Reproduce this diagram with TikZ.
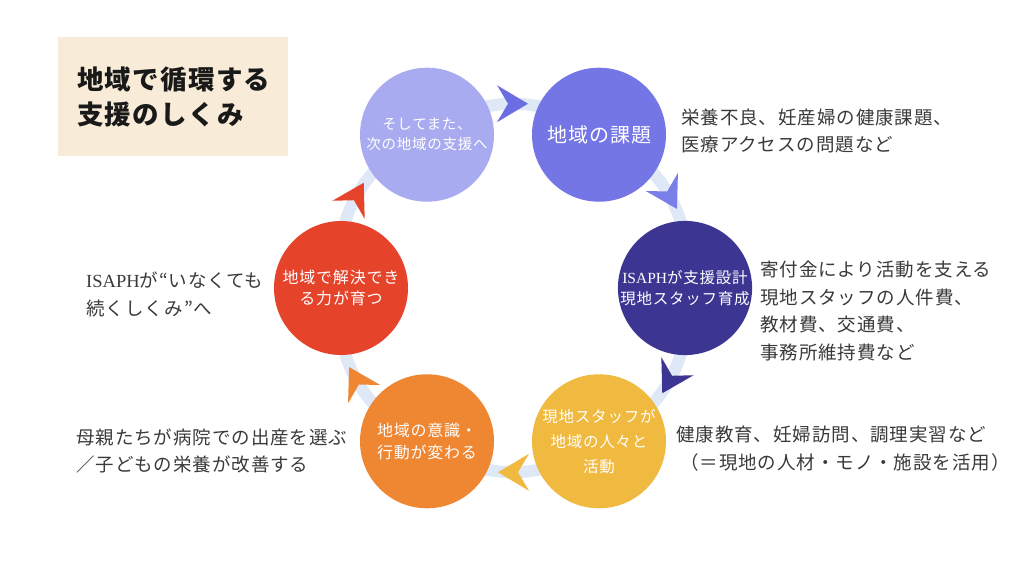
\documentclass[tikz,border=0pt]{standalone}
\usepackage{fontspec}
\newfontfamily\jp[LetterSpace=5]{Noto Sans CJK JP}
\newfontfamily\lserif{Liberation Serif}
\usetikzlibrary{arrows.meta, decorations.markings, backgrounds, calc}

\definecolor{beige}{HTML}{F8ECD8}
\definecolor{ringblue}{HTML}{DFE8F6}
\definecolor{notegray}{HTML}{3A3A3A}
\definecolor{cTsugi}{HTML}{A9ABF0}
\definecolor{cKadai}{HTML}{7476E6}
\definecolor{cSekkei}{HTML}{3C3592}
\definecolor{cKatsudo}{HTML}{F0B940}
\definecolor{cIshiki}{HTML}{EE8632}
\definecolor{cKaiketsu}{HTML}{E6432B}
\definecolor{arTop}{HTML}{6B6EE2}
\definecolor{arRight}{HTML}{7A7EE8}

\begin{document}
\begin{tikzpicture}[x=1pt, y=1pt,
    bubble/.style={circle, minimum size=134pt, inner sep=0pt, fill=#1, text=white, align=center},
    note/.style={anchor=west, align=left, inner sep=0pt, text=notegray, font=\jp\fontsize{18.5}{27.5}\selectfont},
    ringpath/.style={line width=12pt, color=ringblue,
      postaction={decorate, decoration={markings, mark=at position 0.5 with
        {\arrow[xshift=15pt]{Stealth[length=31pt, width=37pt, inset=11pt, line width=0pt, color=#1, fill=#1]}}}}}]

    \useasboundingbox (0,0) rectangle (1024,576);

    % title
    \node[fill=beige, minimum width=230pt, minimum height=119pt, text width=192pt, align=left, inner sep=0pt,
          font=\jp\bfseries\fontsize{26.5}{35}\selectfont, text=black!90] (title) at (173,479.5)
          {地域で循環する\\支援のしくみ};

    % the six steps
    \coordinate (O) at (513,288);
    \node[bubble=cTsugi, font=\jp\fontsize{14.5}{20}\selectfont] (tsugi) at ($(O)+(120:172 and 177)$) {そしてまた、\\次の地域の支援へ};
    \node[bubble=cKadai, font=\jp\fontsize{20}{24}\selectfont] (kadai) at ($(O)+(60:172 and 177)$) {地域の課題};
    \node[bubble=cSekkei, font=\jp\fontsize{15.5}{21}\selectfont] (sekkei) at ($(O)+(0:172 and 177)$) {{\lserif ISAPH}が支援設計\\現地スタッフ育成};
    \node[bubble=cKatsudo, font=\jp\fontsize{15.5}{25}\selectfont] (katsudo) at ($(O)+(-60:172 and 177)$) {現地スタッフが\\地域の人々と\\活動};
    \node[bubble=cIshiki, font=\jp\fontsize{16}{22}\selectfont] (ishiki) at ($(O)+(-120:172 and 177)$) {地域の意識・\\行動が変わる};
    \node[bubble=cKaiketsu, font=\jp\fontsize{16}{21}\selectfont] (kaiketsu) at ($(O)+(180:172 and 177)$) {地域で解決でき\\る力が育つ};

    % ring with arrows behind the circles
    \begin{scope}[on background layer]
      \fill[white] (0,0) rectangle (1024,576);
      \foreach \p/\q/\c in {tsugi/kadai/arTop, kadai/sekkei/arRight, sekkei/katsudo/cSekkei,
                            katsudo/ishiki/cKatsudo, ishiki/kaiketsu/cIshiki, kaiketsu/tsugi/cKaiketsu}
        \draw[ringpath=\c] (\p.center) to[bend left=38] (\q.center);
    \end{scope}

    % notes
    \node[note] (nKadai) at (681,445) {栄養不良、妊産婦の健康課題、\\医療アクセスの問題など};
    \node[note] (nSekkei) at (760,265) {寄付金により活動を支える\\現地スタッフの人件費、\\教材費、交通費、\\事務所維持費など};
    \node[note] (nKatsudo) at (676,127.5) {健康教育、妊婦訪問、調理実習など\\\hspace*{4pt}（＝現地の人材・モノ・施設を活用）};
    \node[note] (nKaiketsu) at (86,281.5) {{\lserif ISAPH}が“いなくても\\続くしくみ”へ};
    \node[note] (nIshiki) at (76,125) {母親たちが病院での出産を選ぶ\\／子どもの栄養が改善する};
\end{tikzpicture}
\end{document}
